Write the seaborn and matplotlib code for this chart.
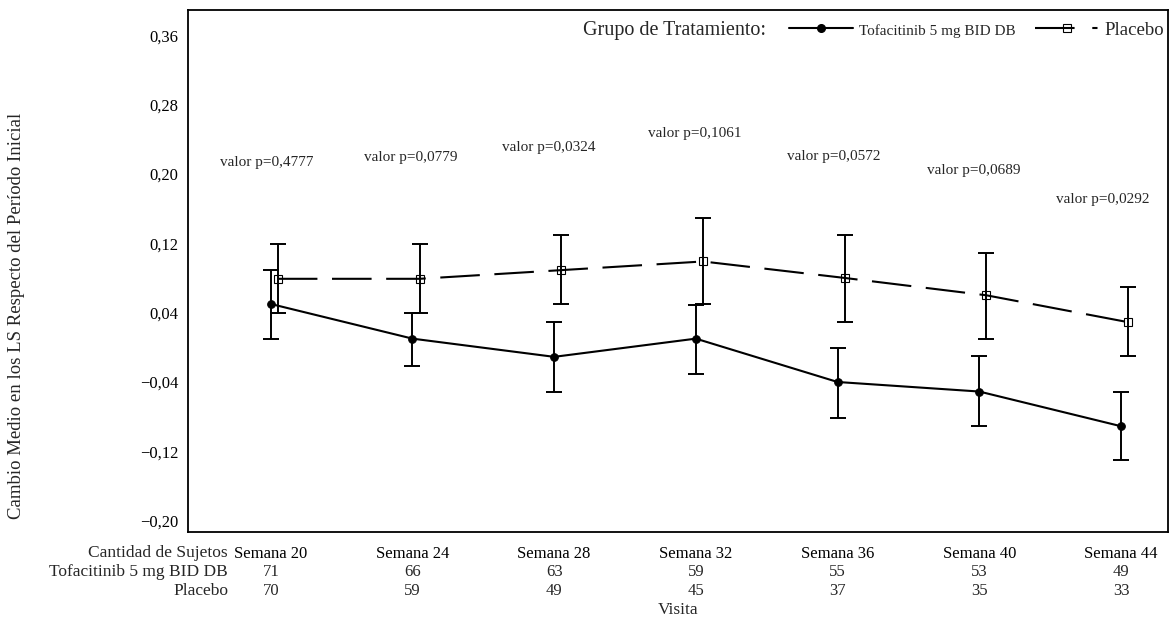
import pandas as pd
import seaborn as sns
import matplotlib.pyplot as plt
from matplotlib.lines import Line2D
from matplotlib.ticker import FuncFormatter
from matplotlib.transforms import blended_transform_factory

# Data
weeks = ["Semana 20", "Semana 24", "Semana 28", "Semana 32", "Semana 36", "Semana 40", "Semana 44"]
tofa_mean = [0.050, 0.010, -0.011, 0.010, -0.040, -0.051, -0.091]
tofa_lo = [0.010, -0.021, -0.051, -0.031, -0.081, -0.091, -0.130]
tofa_hi = [0.089, 0.039, 0.029, 0.049, -0.001, -0.010, -0.051]
plac_mean = [0.079, 0.079, 0.089, 0.099, 0.080, 0.060, 0.029]
plac_lo = [0.040, 0.040, 0.050, 0.050, 0.029, 0.010, -0.010]
plac_hi = [0.119, 0.119, 0.130, 0.149, 0.129, 0.109, 0.070]
tofa_n = [71, 66, 63, 59, 55, 53, 49]
plac_n = [70, 59, 49, 45, 37, 35, 33]
p_values = ["0,4777", "0,0779", "0,0324", "0,1061", "0,0572", "0,0689", "0,0292"]
y_ticks = [-0.20, -0.12, -0.04, 0.04, 0.12, 0.20, 0.28, 0.36]

TOFA = "Tofacitinib 5 mg BID DB"
PLAC = "Placebo"

# label placement for p-values (data coords)
p_label_y = [0.213, 0.219, 0.231, 0.247, 0.220, 0.204, 0.171]
p_label_dx = [-0.03, -0.01, -0.04, -0.01, -0.03, -0.04, -0.13]

pos = list(range(len(weeks)))
plac_pos = [p + 0.05 for p in pos]

df = pd.DataFrame({
    "pos": pos + plac_pos,
    "mean": tofa_mean + plac_mean,
    "group": [TOFA] * len(pos) + [PLAC] * len(pos),
})

sns.set_theme(style="white")
plt.rcParams["font.family"] = ["Liberation Serif", "DejaVu Serif"]
plt.rcParams["axes.unicode_minus"] = True

fig = plt.figure(figsize=(11.7, 6.25), dpi=100)
ax = fig.add_axes([188 / 1170, 1 - 532 / 625, 980 / 1170, 522 / 625])

# error bars
ax.errorbar(pos, tofa_mean,
            yerr=[[m - l for m, l in zip(tofa_mean, tofa_lo)], [h - m for m, h in zip(tofa_mean, tofa_hi)]],
            fmt="none", ecolor="black", elinewidth=1.4, capsize=5.8, capthick=1.4, zorder=2)
ax.errorbar(plac_pos, plac_mean,
            yerr=[[m - l for m, l in zip(plac_mean, plac_lo)], [h - m for m, h in zip(plac_mean, plac_hi)]],
            fmt="none", ecolor="black", elinewidth=1.4, capsize=5.8, capthick=1.4, zorder=2)

# lines
sns.lineplot(data=df[df["group"] == TOFA], x="pos", y="mean", ax=ax, color="black",
             marker="o", markersize=5.5, markeredgecolor="black", linewidth=1.5,
             errorbar=None, legend=False, zorder=3)
sns.lineplot(data=df[df["group"] == PLAC], x="pos", y="mean", ax=ax, color="black",
             marker="s", markersize=6, markerfacecolor="none", markeredgecolor="black",
             markeredgewidth=0.8, linewidth=1.5, dashes=False, linestyle=(0, (19, 7)),
             errorbar=None, legend=False, zorder=3)

# p-values
for i, p in enumerate(p_values):
    ax.text(pos[i] + p_label_dx[i], p_label_y[i], f"valor p={p}", ha="center", va="center", fontsize=11)

ax.set_xlim(-0.584, 6.332)
ax.set_ylim(-0.213, 0.389)
ax.set_yticks(y_ticks)
ax.yaxis.set_major_formatter(FuncFormatter(lambda v, _: f"{v:.2f}".replace(".", ",").replace("-", "\u2212")))
ax.set_xticks(pos)
ax.set_xticklabels(weeks)
ax.tick_params(axis="both", direction="out", length=5, width=1.4, labelsize=12, colors="black", pad=2)
ax.tick_params(axis="x", pad=5)
ax.set_ylabel("")
ax.set_xlabel("Visita", fontsize=12.5)
ax.xaxis.set_label_coords(0.5, -0.134)
for s in ax.spines.values():
    s.set_color("black")
    s.set_linewidth(1.3)

# subject counts table
tr = blended_transform_factory(ax.transData, fig.transFigure)
row_y = [1 - 553 / 625, 1 - 572 / 625, 1 - 591 / 625]
fig.text(228 / 1170, row_y[0], "Cantidad de Sujetos", ha="right", va="center", fontsize=12.5)
fig.text(228 / 1170, row_y[1], TOFA, ha="right", va="center", fontsize=12.5)
fig.text(228 / 1170, row_y[2], PLAC, ha="right", va="center", fontsize=12.5)
for i in pos:
    ax.text(i, row_y[1], str(tofa_n[i]), transform=tr, ha="center", va="center", fontsize=12)
    ax.text(i, row_y[2], str(plac_n[i]), transform=tr, ha="center", va="center", fontsize=12)

fig.text(17 / 1170, 1 - 316 / 625, "Cambio Medio en los LS Respecto del Período Inicial",
         rotation=90, ha="center", va="center", fontsize=13.5)

# legend
fig.text(766 / 1170, 1 - 30 / 625, "Grupo de Tratamiento:", ha="right", va="center", fontsize=14.5)
handles = [
    Line2D([], [], color="black", marker="o", markersize=5.5, linewidth=1.5),
    Line2D([], [], color="black", marker="s", markersize=6, markerfacecolor="none",
           markeredgewidth=0.8, linewidth=1.5, dashes=(19, 8.5, 2.5, 100)),
]
leg = fig.legend(handles, [TOFA, PLAC], loc="center right", bbox_to_anchor=(1164 / 1170, 1 - 30 / 625),
                 ncol=2, frameon=False, borderaxespad=0, borderpad=0, fontsize=13.5,
                 handlelength=3.4, handletextpad=0.3, columnspacing=1.05)
leg.get_texts()[0].set_fontsize(11)

fig.savefig("out.png", dpi=100)
